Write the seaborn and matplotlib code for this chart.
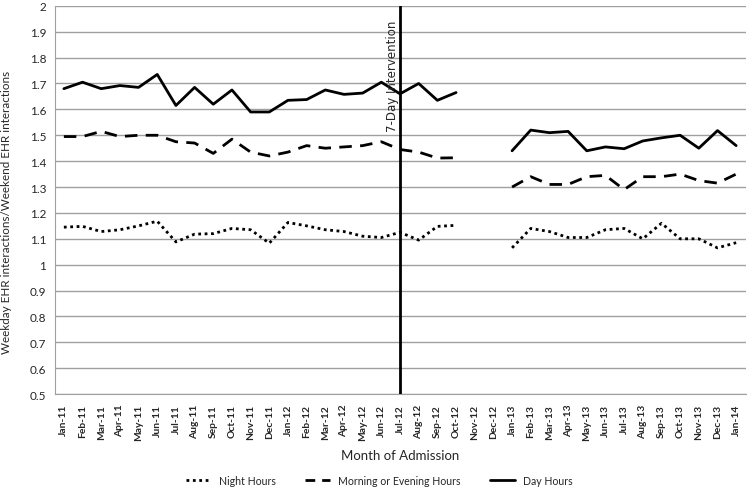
import numpy as np
import pandas as pd
import matplotlib
matplotlib.use("Agg")
import matplotlib.pyplot as plt
import seaborn as sns

# ------------------------------------------------------------
# data
# ------------------------------------------------------------
months = [
    "Jan-11", "Feb-11", "Mar-11", "Apr-11", "May-11", "Jun-11", "Jul-11", "Aug-11",
    "Sep-11", "Oct-11", "Nov-11", "Dec-11", "Jan-12", "Feb-12", "Mar-12", "Apr-12",
    "May-12", "Jun-12", "Jul-12", "Aug-12", "Sep-12", "Oct-12", "Nov-12", "Dec-12",
    "Jan-13", "Feb-13", "Mar-13", "Apr-13", "May-13", "Jun-13", "Jul-13", "Aug-13",
    "Sep-13", "Oct-13", "Nov-13", "Dec-13", "Jan-14",
]
nan = np.nan
night = [1.145, 1.148, 1.128, 1.135, 1.150, 1.168, 1.088, 1.118, 1.120, 1.140,
         1.135, 1.083, 1.163, 1.150, 1.135, 1.128, 1.110, 1.105, 1.125, 1.095,
         1.148, 1.152, nan, nan, 1.065, 1.140, 1.128, 1.105, 1.105, 1.135,
         1.140, 1.100, 1.160, 1.100, 1.100, 1.065, 1.085]
morning_evening = [1.495, 1.495, 1.515, 1.495, 1.500, 1.500, 1.475, 1.470, 1.430, 1.485,
                   1.435, 1.420, 1.435, 1.460, 1.450, 1.455, 1.460, 1.475, 1.445, 1.435,
                   1.412, 1.413, nan, nan, 1.300, 1.340, 1.310, 1.310, 1.340, 1.345,
                   1.290, 1.340, 1.340, 1.350, 1.325, 1.315, 1.350]
day = [1.680, 1.705, 1.680, 1.692, 1.685, 1.735, 1.615, 1.685, 1.620, 1.675,
       1.590, 1.590, 1.635, 1.638, 1.675, 1.658, 1.663, 1.705, 1.660, 1.700,
       1.635, 1.665, nan, nan, 1.440, 1.520, 1.510, 1.515, 1.440, 1.455,
       1.448, 1.478, 1.490, 1.500, 1.450, 1.518, 1.460]
series_names = ["Night Hours", "Morning or Evening Hours", "Day Hours"]
intervention_month = "Jul-12"

# long table; segment id keeps the Nov-12/Dec-12 gap open
frames = []
for name, vals in zip(series_names, [night, morning_evening, day]):
    v = np.array(vals, dtype=float)
    seg = np.cumsum(np.isnan(v))
    frames.append(pd.DataFrame({"idx": np.arange(len(months)), "value": v,
                                "series": name, "seg": seg}))
df = pd.concat(frames).dropna()

sns.set_style("white")
plt.rcParams["font.family"] = ["Lato", "DejaVu Sans"]

fig = plt.figure(figsize=(7.47, 4.89), dpi=100)
ax = fig.add_axes([0.073, 0.192, 0.925, 0.794])

dashes = {"Night Hours": (1, 1.3), "Morning or Evening Hours": (4.5, 3), "Day Hours": ""}
palette = {n: "black" for n in series_names}
sns.lineplot(data=df, x="idx", y="value", hue="series", style="series",
             units="seg", estimator=None, palette=palette, dashes=dashes,
             hue_order=series_names, style_order=series_names,
             linewidth=2, ax=ax, legend=False)

# intervention marker
xi = months.index(intervention_month)
ax.axvline(xi, color="black", linewidth=2, zorder=3)
ax.text(xi - 0.08, 1.948, "7-Day Intervention", rotation=90, ha="right", va="top",
        fontsize=8.5, family="DejaVu Sans")

ax.set_xlim(-0.5, len(months) - 0.5)
ax.set_ylim(0.5, 2.0)
yt = np.arange(0.5, 2.01, 0.1).round(1)
ax.set_yticks(yt)
ax.set_yticklabels([f"{t:g}" for t in yt], fontsize=8.5)
ax.set_xticks(range(len(months)))
ax.set_xticklabels(months, rotation=90, fontsize=7.4, fontweight="bold")
ax.tick_params(axis="y", length=0, pad=6)
ax.tick_params(axis="x", length=0, pad=7)
ax.grid(axis="y", color="#a0a0a0", linewidth=1)
for s in ["top", "right"]:
    ax.spines[s].set_visible(False)
for s in ["left", "bottom"]:
    ax.spines[s].set_color("#a0a0a0")
ax.set_xlabel("Month of Admission", fontsize=9.5, va="center")
ax.xaxis.set_label_coords(0.5, -0.157)
ax.set_ylabel("Weekday EHR interactions/Weekend EHR interactions", fontsize=8.4)
ax.yaxis.set_label_coords(-0.062, 0.47)

# legend handles: dash pattern tuned so the dashed key shows two dashes
handles = [plt.Line2D([], [], color="black", linewidth=2, linestyle="-")
           for n in series_names]
handles[0].set_dashes((1, 1.3))
handles[1].set_dashes((3.5, 2.5))
fig.legend(handles, series_names, loc="center", bbox_to_anchor=(0.508, 0.016),
           ncol=3, frameon=False, fontsize=7.6, handlelength=2.3, columnspacing=2.8,
           borderpad=0)

plt.savefig("out.png", dpi=100)
plt.close(fig)
